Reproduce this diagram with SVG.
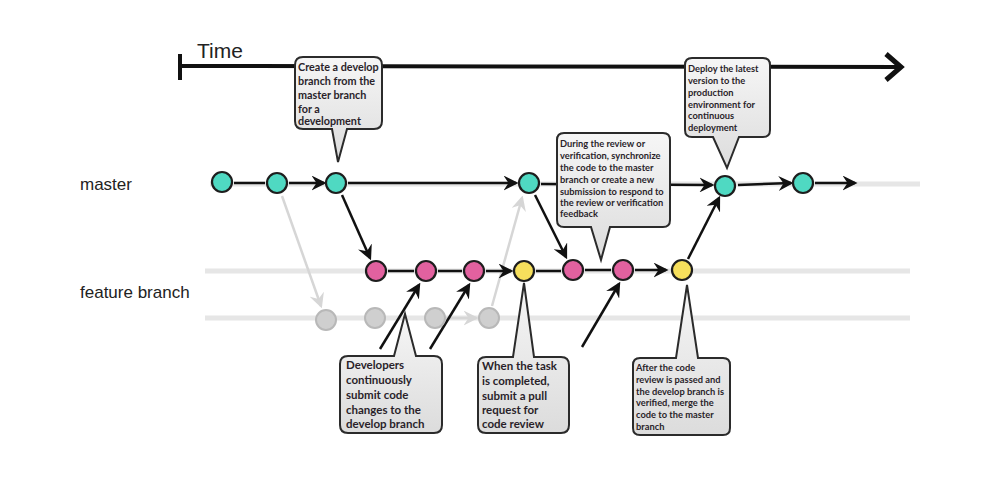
<svg xmlns="http://www.w3.org/2000/svg" width="991" height="502" viewBox="0 0 991 502">
<style>
.lbl{font-family:"Liberation Sans",Arial,sans-serif;fill:#222;}
.note{font-family:Lato,"Open Sans",sans-serif;font-weight:bold;fill:#2a1f2a;}
.box{fill:url(#g);stroke:#2b2b2b;stroke-width:2;}
.rail{stroke:#e6e6e6;stroke-width:5;fill:none;}
.ln{stroke:#111;stroke-width:2.5;fill:none;}
.lna{stroke:#111;stroke-width:2.5;fill:none;marker-end:url(#ah);}
.lg{stroke:#d6d6d6;stroke-width:2.5;fill:none;marker-end:url(#ahg);}
.teal{fill:#4fd9c2;stroke:#1d1d1d;stroke-width:2.2;}
.pink{fill:#e2619f;stroke:#1d1d1d;stroke-width:2.2;}
.yel{fill:#f6df5c;stroke:#1d1d1d;stroke-width:2.2;}
.grey{fill:#cfcfcf;stroke:#b8b8b8;stroke-width:2;}
</style>
<defs>
<linearGradient id="g" x1="0" y1="0" x2="0" y2="1">
<stop offset="0" stop-color="#f6f6f6"/>
<stop offset="1" stop-color="#dcdcdc"/>
</linearGradient>
<marker id="ah" viewBox="0 0 12 12" refX="10" refY="6" markerWidth="6" markerHeight="6" orient="auto" markerUnits="strokeWidth">
<path d="M0,0 L12,6 L0,12 L4,6 z" fill="#111"/>
</marker>
<marker id="ahg" viewBox="0 0 12 12" refX="10" refY="6" markerWidth="6" markerHeight="6" orient="auto" markerUnits="strokeWidth">
<path d="M0,0 L12,6 L0,12 L4,6 z" fill="#d6d6d6"/>
</marker>
</defs>
<rect width="991" height="502" fill="#fff"/>

<g id="time-axis">
<text class="lbl" x="197" y="58" font-size="21">Time</text>
<line x1="180" y1="66" x2="898" y2="67" stroke="#111" stroke-width="4"/>
<line x1="180" y1="54" x2="180" y2="80" stroke="#111" stroke-width="4"/>
<path d="M886,54 L901,67 L886,80" fill="none" stroke="#111" stroke-width="5" stroke-linejoin="miter"/>
</g>

<g id="labels">
<text class="lbl" x="80" y="190" font-size="17">master</text>
<text class="lbl" x="80" y="298" font-size="17">feature branch</text>
</g>

<g id="connectors">
<line class="rail" x1="210" y1="184" x2="920" y2="184"/>
<line class="rail" x1="205" y1="271" x2="910" y2="271"/>
<line class="rail" x1="205" y1="318" x2="910" y2="318"/>
<line class="lg" x1="282" y1="196" x2="321" y2="306"/>
<line class="lg" x1="492" y1="306" x2="522" y2="198"/>
<line class="lg" x1="445" y1="318" x2="476" y2="318"/>
<line class="ln" x1="234" y1="183" x2="265" y2="183"/>
<line class="lna" x1="289" y1="183" x2="324" y2="183"/>
<line class="lna" x1="348" y1="183" x2="516" y2="183"/>
<line class="lna" x1="541" y1="184" x2="712" y2="185"/>
<line class="lna" x1="738" y1="185" x2="791" y2="183"/>
<line class="lna" x1="815" y1="183" x2="855" y2="183"/>
<line class="ln" x1="388" y1="271" x2="414" y2="271"/>
<line class="ln" x1="438" y1="271" x2="462" y2="271"/>
<line class="lna" x1="486" y1="271" x2="511" y2="271"/>
<line class="ln" x1="536" y1="271" x2="561" y2="271"/>
<line class="ln" x1="585" y1="270" x2="611" y2="270"/>
<line class="lna" x1="635" y1="270" x2="666" y2="270"/>
<line class="lna" x1="342" y1="195" x2="370" y2="258"/>
<line class="lna" x1="535" y1="195" x2="566" y2="257"/>
<line class="lna" x1="688" y1="259" x2="719" y2="198"/>
<line class="lna" x1="380" y1="349" x2="419" y2="285"/>
<line class="lna" x1="430" y1="349" x2="469" y2="285"/>
<line class="lna" x1="582" y1="347" x2="619" y2="284"/>
</g>

<g id="master-nodes">
<circle class="teal" cx="222" cy="182" r="10"/>
<circle class="teal" cx="277" cy="183" r="10"/>
<circle class="teal" cx="336" cy="183" r="10"/>
<circle class="teal" cx="529" cy="183" r="10"/>
<circle class="teal" cx="725" cy="186" r="10"/>
<circle class="teal" cx="803" cy="183" r="10"/>
</g>

<g id="feature-nodes">
<circle class="pink" cx="376" cy="271" r="10"/>
<circle class="pink" cx="426" cy="271" r="10"/>
<circle class="pink" cx="474" cy="271" r="10"/>
<circle class="yel" cx="524" cy="271" r="10"/>
<circle class="pink" cx="573" cy="270" r="10"/>
<circle class="pink" cx="623" cy="270" r="10"/>
<circle class="yel" cx="682" cy="270" r="10"/>
</g>

<g id="grey-nodes">
<circle class="grey" cx="326" cy="320" r="10"/>
<circle class="grey" cx="375" cy="318" r="10"/>
<circle class="grey" cx="435" cy="318" r="10"/>
<circle class="grey" cx="489" cy="318" r="10"/>
</g>

<g id="note-create">
<path class="box" d="M303,57 H374 Q382,57 382,65 V121 Q382,129 374,129 H347 L338,162 L332,129 H303 Q295,129 295,121 V65 Q295,57 303,57 Z"/>
<text class="note" font-size="10.8"><tspan x="298" y="71">Create a develop</tspan><tspan x="298" y="85">branch from the</tspan><tspan x="298" y="99">master branch</tspan><tspan x="298" y="113">for a</tspan><tspan x="298" y="125">development</tspan></text>
</g>

<g id="note-deploy">
<path class="box" d="M692,58 H763 Q770,58 770,65 V130 Q770,137 763,137 H739 L727,168 L713,137 H692 Q685,137 685,130 V65 Q685,58 692,58 Z"/>
<text class="note" font-size="9.3"><tspan x="688" y="72">Deploy the latest</tspan><tspan x="688" y="84">version to the</tspan><tspan x="688" y="96">production</tspan><tspan x="688" y="108">environment for</tspan><tspan x="688" y="119">continuous</tspan><tspan x="688" y="131">deployment</tspan></text>
</g>

<g id="note-review">
<path class="box" d="M564,133 H663 Q670,133 670,140 V220 Q670,227 663,227 H610 L601,260 L591,227 H564 Q557,227 557,220 V140 Q557,133 564,133 Z"/>
<text class="note" font-size="9.3"><tspan x="560" y="147">During the review or</tspan><tspan x="560" y="159">verification, synchronize</tspan><tspan x="560" y="171">the code to the master</tspan><tspan x="560" y="183">branch or create a new</tspan><tspan x="560" y="195">submission to respond to</tspan><tspan x="560" y="206">the review or verification</tspan><tspan x="560" y="217">feedback</tspan></text>
</g>

<g id="note-developers">
<path class="box" d="M348,356 H394 L405,314 L416,356 H434 Q442,356 442,364 V425 Q442,433 434,433 H348 Q340,433 340,425 V364 Q340,356 348,356 Z"/>
<text class="note" font-size="11.5"><tspan x="346" y="369">Developers</tspan><tspan x="346" y="384">continuously</tspan><tspan x="346" y="399">submit code</tspan><tspan x="346" y="414">changes to the</tspan><tspan x="346" y="428">develop branch</tspan></text>
</g>

<g id="note-pr">
<path class="box" d="M486,357 H513 L524,283 L534,357 H561 Q569,357 569,365 V425 Q569,433 561,433 H486 Q478,433 478,425 V365 Q478,357 486,357 Z"/>
<text class="note" font-size="11.5"><tspan x="482" y="370">When the task</tspan><tspan x="482" y="385">is completed,</tspan><tspan x="482" y="400">submit a pull</tspan><tspan x="482" y="414">request for</tspan><tspan x="482" y="428">code review</tspan></text>
</g>

<g id="note-merge">
<path class="box" d="M640,358 H676 L687,285 L698,358 H723 Q730,358 730,365 V428 Q730,435 723,435 H640 Q633,435 633,428 V365 Q633,358 640,358 Z"/>
<text class="note" font-size="9.3"><tspan x="636" y="371">After the code</tspan><tspan x="636" y="383">review is passed and</tspan><tspan x="636" y="395">the develop branch is</tspan><tspan x="636" y="406">verified, merge the</tspan><tspan x="636" y="418">code to the master</tspan><tspan x="636" y="430">branch</tspan></text>
</g>
</svg>
